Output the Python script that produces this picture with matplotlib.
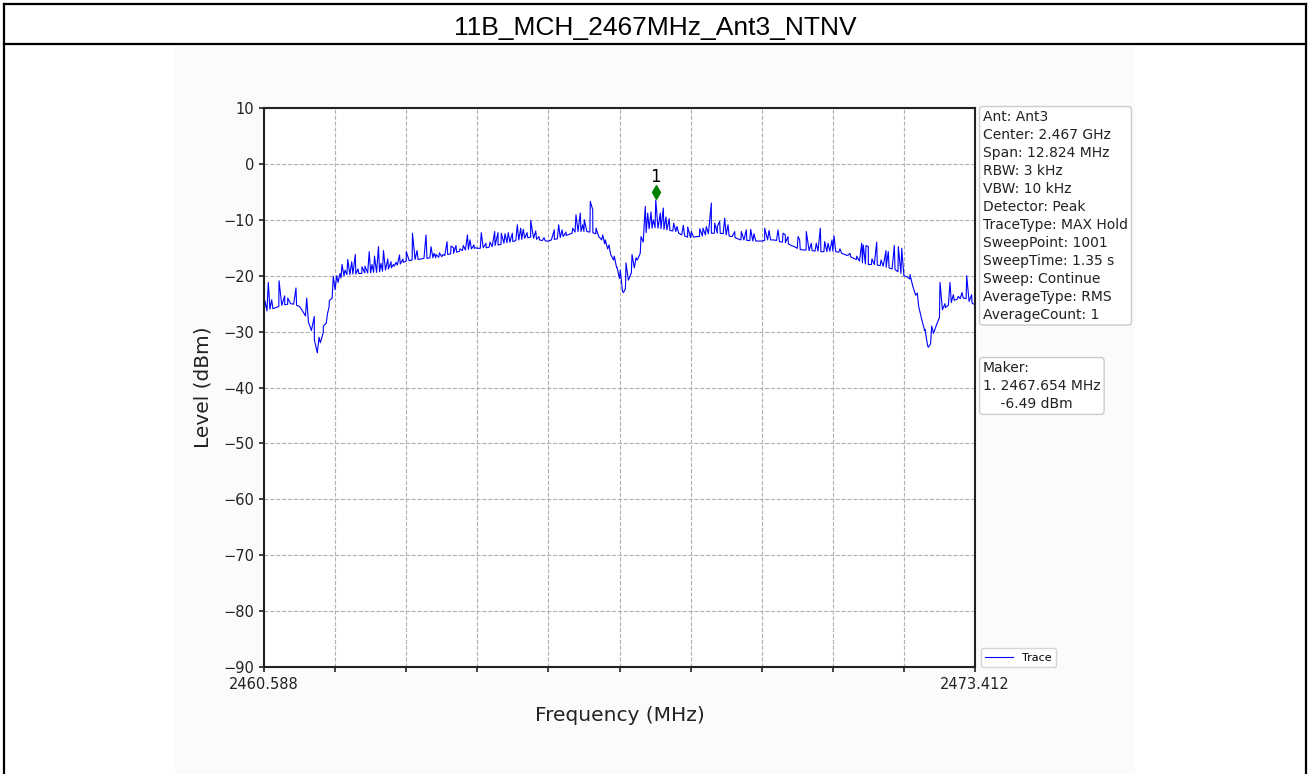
"""Spectrum trace chart: 11B_MCH_2467MHz_Ant3_NTNV"""
import numpy as np
import matplotlib
matplotlib.use('Agg')
import matplotlib.pyplot as plt
from matplotlib.lines import Line2D
from matplotlib.patches import Rectangle
from matplotlib.transforms import offset_copy

W, H = 1310, 774

TITLE = "11B_MCH_2467MHz_Ant3_NTNV"
START_MHZ = 2460.588
STOP_MHZ = 2473.412
Y_TICKS = [10, 0, -10, -20, -30, -40, -50, -60, -70, -80, -90]
X_TICK_LABELS = ["2460.588", "", "", "", "", "", "", "", "", "", "2473.412"]

MARKER_FREQ = 2467.654
MARKER_LEVEL = -6.49

INFO_LINES = [
    "Ant: Ant3",
    "Center: 2.467 GHz",
    "Span: 12.824 MHz",
    "RBW: 3 kHz",
    "VBW: 10 kHz",
    "Detector: Peak",
    "TraceType: MAX Hold",
    "SweepPoint: 1001",
    "SweepTime: 1.35 s",
    "Sweep: Continue",
    "AverageType: RMS",
    "AverageCount: 1",
]
MAKER_LINES = ["Maker:", "1. 2467.654 MHz", "    -6.49 dBm"]

# noise floor of the trace (dBm), 24 evenly spaced points per grid division
floor_dbm = [
    -27.0,
    -26.3, -26.0, -25.9, -25.7, -25.5, -25.3, -25.2, -25.1, -25.0, -25.1, -25.3, -25.5,
    -26.3, -27.2, -28.3, -29.8, -31.5, -33.8, -32.0, -30.2, -28.5, -25.5, -24.0, -22.5,
    # division 2
    -21.2, -20.4, -20.0, -19.8, -19.8, -19.7, -19.7, -19.6, -19.6, -19.5, -19.5, -19.5,
    -19.4, -19.4, -19.3, -19.2, -19.0, -18.8, -18.6, -18.3, -18.1, -17.9, -17.6, -17.4,
    # division 3
    -17.3, -17.2, -17.1, -17.1, -17.0, -16.9, -16.9, -16.8, -16.8, -16.8, -16.7, -16.6,
    -16.4, -16.2, -16.1, -16.0, -15.8, -15.6, -15.5, -15.4, -15.3, -15.2, -15.1, -15.1,
    # division 4
    -15.1, -15.0, -15.0, -14.9, -14.8, -14.6, -14.5, -14.4, -14.2, -14.1, -14.0, -13.9,
    -13.7, -13.6, -13.5, -13.3, -13.2, -13.1, -13.3, -13.5, -13.6, -13.7, -13.8, -13.8,
    # division 5
    -13.6, -13.5, -13.4, -13.2, -13.0, -12.8, -12.6, -12.4, -12.2, -12.1, -12.1, -12.1,
    -12.1, -12.2, -12.3, -12.5, -13.0, -13.6, -14.3, -15.2, -16.2, -17.2, -18.5, -20.5,
    # division 6
    -22.8, -22.3, -20.8, -19.5, -18.6, -17.2, -16.0, -14.0, -12.3, -11.6, -11.5, -11.4,
    -11.5, -11.6, -11.7, -11.8, -11.9, -12.0, -12.1, -12.4, -12.7, -12.9, -13.1, -13.2,
    # division 7
    -13.1, -13.0, -13.0, -12.9, -12.7, -12.5, -12.4, -12.4, -12.4, -12.4, -12.5, -12.7,
    -12.9, -13.0, -13.2, -13.4, -13.6, -13.6, -13.7, -13.7, -13.8, -13.8, -13.8, -13.8,
    # division 8
    -13.7, -13.6, -13.6, -13.6, -13.7, -13.9, -14.0, -14.1, -14.3, -14.6, -14.8, -15.1,
    -15.3, -15.4, -15.4, -15.5, -15.5, -15.6, -15.6, -15.7, -15.7, -15.7, -15.6, -15.6,
    # division 9
    -15.7, -15.8, -16.0, -16.2, -16.4, -16.6, -16.9, -17.1, -17.4, -17.7, -17.9, -18.0,
    -18.0, -18.0, -18.1, -18.2, -18.3, -18.5, -18.6, -18.8, -18.9, -19.3, -19.6, -20.0,
    # division 10
    -20.2, -20.6, -21.9, -23.5, -25.5, -27.8, -29.8, -32.5, -32.2, -30.3, -28.8, -27.5,
    -26.1, -25.7, -25.3, -24.8, -24.4, -24.2, -24.1, -24.0, -24.1, -24.6, -24.9, -25.2,
]

# narrow spurs sitting on the floor (MAX Hold spikes)
spur_mhz = [
    2460.606, 2460.666, 2460.727, 2460.859, 2460.961, 2461.016, 2461.165, 2461.358,
    2461.495, 2461.580, 2461.658, 2461.733, 2461.766, 2461.838,
    2461.899, 2461.959, 2461.995, 2462.049, 2462.098, 2462.170, 2462.235, 2462.283,
    2462.356, 2462.410, 2462.486, 2462.536, 2462.581, 2462.653, 2462.698, 2462.743,
    2462.821, 2462.879, 2462.920, 2462.969, 2463.032, 2463.095, 2463.155,
    2463.266, 2463.348, 2463.510, 2463.600, 2463.654, 2463.690, 2463.753, 2463.817,
    2463.889, 2463.961, 2464.006, 2464.051, 2464.123, 2464.183, 2464.258, 2464.304,
    2464.376, 2464.412,
    2464.507, 2464.592, 2464.664, 2464.749, 2464.809, 2464.868, 2464.935, 2464.994,
    2465.067, 2465.157, 2465.218, 2465.265, 2465.332, 2465.398, 2465.489, 2465.548,
    2465.638,
    2465.824, 2465.903, 2465.963, 2466.035, 2466.156, 2466.215, 2466.293, 2466.336,
    2466.365, 2466.473, 2466.517, 2466.576, 2466.697, 2466.744, 2466.811, 2466.906,
    2466.955, 2467.014,
    2467.072, 2467.117, 2467.226, 2467.298, 2467.388, 2467.465, 2467.509, 2467.568,
    2467.610, 2467.654, 2467.736, 2467.790, 2467.839, 2467.898, 2467.978, 2468.037,
    2468.151, 2468.230,
    2468.295, 2468.447, 2468.506, 2468.566, 2468.656, 2468.717, 2468.764, 2468.807,
    2468.897, 2468.957, 2469.078, 2469.197, 2469.287, 2469.366, 2469.426,
    2469.619, 2469.697, 2469.859, 2469.949, 2469.991, 2470.039, 2470.220, 2470.250,
    2470.369, 2470.460, 2470.550, 2470.622, 2470.701, 2470.761, 2470.833, 2470.869,
    2470.977, 2471.158, 2471.278, 2471.369, 2471.397, 2471.446, 2471.488, 2471.554,
    2471.639, 2471.717, 2471.807, 2471.848, 2471.957, 2472.029, 2472.090,
    2472.240, 2472.371, 2472.510, 2472.570, 2472.631, 2472.781, 2472.871, 2472.961,
    2473.021, 2473.111, 2473.178, 2473.262, 2473.352,
]
spur_dbm = [
    -24.5, -21.2, -24.3, -20.9, -23.6, -24.0, -22.2, -24.0,
    -27.3, -31.0, -29.0, -26.8, -24.5, -20.1,
    -20.0, -19.6, -18.0, -19.0, -17.1, -17.5, -16.2, -18.8,
    -18.4, -18.3, -15.7, -18.0, -16.5, -14.8, -17.8, -15.5,
    -17.0, -17.5, -18.0, -17.6, -16.3, -17.0, -15.7,
    -12.4, -15.5, -12.7, -14.8, -16.0, -16.2, -15.9, -16.2,
    -13.9, -14.7, -15.0, -14.6, -15.2, -14.6, -12.7, -13.6,
    -14.5, -15.0,
    -12.3, -14.2, -14.0, -12.1, -12.3, -12.4, -12.5, -12.3,
    -12.4, -10.9, -11.5, -11.7, -12.3, -10.1, -12.0, -13.0,
    -13.2,
    -11.8, -10.9, -11.8, -12.2, -11.5, -9.1, -8.8, -10.9,
    -10.0, -6.7, -8.2, -11.5, -12.7, -13.6, -14.5, -16.5,
    -18.5, -19.0,
    -23.0, -17.7, -16.2, -16.8, -13.0, -7.6, -8.8, -8.6,
    -10.0, -6.49, -8.8, -7.9, -9.5, -9.8, -10.6, -11.2,
    -11.0, -11.3,
    -12.1, -11.6, -11.5, -11.2, -7.0, -10.6, -11.2, -10.3,
    -9.7, -10.9, -12.1, -12.1, -11.8, -11.7, -12.5,
    -11.5, -11.9, -11.8, -12.4, -12.7, -13.0, -13.0, -13.6,
    -12.1, -14.2, -14.2, -11.5, -13.9, -14.2, -13.6, -12.9,
    -15.2, -16.0, -16.5, -14.2, -14.5, -14.6, -14.8, -17.0,
    -14.0, -17.2, -15.5, -15.7, -14.6, -14.8, -15.1,
    -19.8, -23.1, -29.6, -32.8, -29.0, -21.2, -25.0, -21.2,
    -23.4, -23.7, -23.0, -20.0, -23.4,
]


def fx(px):
    return px / W


def fy(px):
    return 1 - px / H


def draw_frame(fig):
    """Outer table-like frame with the title row"""
    fig.add_artist(Rectangle((fx(175), 0), fx(1135) - fx(175), fy(46),
                             transform=fig.transFigure, facecolor='#fbfbfb',
                             edgecolor='none', zorder=-10))
    kw = dict(transform=fig.transFigure, color='black', lw=1.6)
    fig.add_artist(Line2D([fx(4), fx(1306)], [fy(4), fy(4)], **kw))
    fig.add_artist(Line2D([fx(4), fx(1306)], [fy(44), fy(44)], **kw))
    fig.add_artist(Line2D([fx(4), fx(4)], [fy(4), 0], **kw))
    fig.add_artist(Line2D([fx(1306), fx(1306)], [fy(4), 0], **kw))
    fig.text(fx(655), fy(28), TITLE, ha='center', va='center', fontsize=19,
             family='Liberation Sans', color='black')


def main():
    fig = plt.figure(figsize=(W / 100, H / 100), dpi=100)
    draw_frame(fig)

    ax = fig.add_axes([fx(264), fy(667), fx(975) - fx(264), fy(108) - fy(667)])
    ax.set_facecolor('white')

    # merge the floor points and the spurs into one sweep, sorted by frequency
    freqs = np.concatenate([np.linspace(START_MHZ, STOP_MHZ, len(floor_dbm)), spur_mhz])
    levels = np.concatenate([floor_dbm, spur_dbm])
    order = np.argsort(freqs, kind='stable')
    ax.plot(freqs[order], levels[order], color='blue', lw=0.8, label='Trace')

    # marker drawn a little above the peak, like the analyser software does
    up = offset_copy(ax.transData, fig=fig, x=0, y=8.5, units='dots')
    ax.plot([MARKER_FREQ], [MARKER_LEVEL], marker='d', ms=7.5, color='green',
            transform=up, linestyle='none')
    ax.annotate("1", (MARKER_FREQ, MARKER_LEVEL), xytext=(0, 14), textcoords='offset pixels',
                ha='center', va='bottom', fontsize=12, color='black')

    ax.set_xlim(START_MHZ, STOP_MHZ)
    ax.set_ylim(-90, 10)
    ax.set_xticks(np.linspace(START_MHZ, STOP_MHZ, len(X_TICK_LABELS)))
    ax.set_xticklabels(X_TICK_LABELS)
    ax.set_yticks(Y_TICKS)
    ax.tick_params(labelsize=10.5, colors='#222222', width=1.2)
    for spine in ax.spines.values():
        spine.set_linewidth(1.5)
        spine.set_color('#222222')
    ax.grid(True, linestyle='--', color='#b0b0b0', lw=0.8)
    ax.set_axisbelow(True)
    ax.set_xlabel("Frequency (MHz)", fontsize=14.5, labelpad=10, color='#222222')
    ax.set_ylabel("Level (dBm)", fontsize=14.5, labelpad=8, color='#222222')

    box = dict(boxstyle='round,pad=0.25', facecolor='white', edgecolor='#cccccc')
    fig.text(fx(983), fy(110), "\n".join(INFO_LINES), ha='left', va='top',
             fontsize=10, color='#222222', bbox=box, linespacing=1.36)
    fig.text(fx(983), fy(361), "\n".join(MAKER_LINES), ha='left', va='top',
             fontsize=10, color='#222222', bbox=box, linespacing=1.36)

    ax.legend(loc='lower left', bbox_to_anchor=(1 + 6 / 711, 0), borderaxespad=0,
              fontsize=8, handlelength=2.5)

    fig.savefig("out.png", dpi=100)


if __name__ == '__main__':
    main()
